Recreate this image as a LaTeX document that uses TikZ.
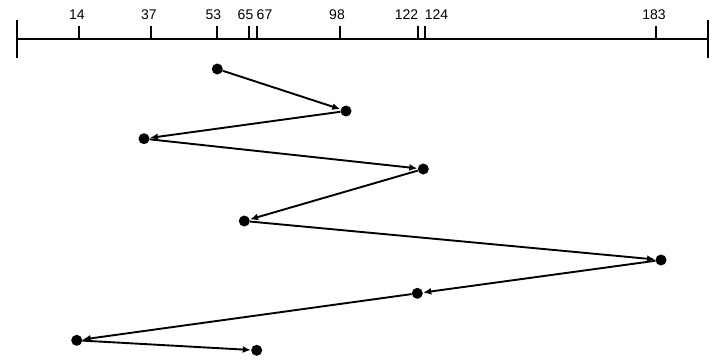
\documentclass[tikz,border=0pt]{standalone}
\usepackage{fontspec}
\setmainfont{Liberation Sans}
\usetikzlibrary{arrows.meta}
\begin{document}
\begin{tikzpicture}[x=1pt,y=-1pt,
  dot/.style={circle,fill=black,inner sep=0pt,minimum size=11pt},
  tick/.style={line width=2pt},
  axisline/.style={line width=2pt},
  seekarrow/.style={line width=1.9pt,-{Latex[length=8pt,width=7pt]},shorten >=0.3pt},
  lbl/.style={font=\fontsize{14}{14}\selectfont,anchor=base,inner sep=0pt}]
\useasboundingbox (0,0) rectangle (718,360);
% axis
\coordinate (L) at (17,39);
\coordinate (R) at (708,39);
\draw[axisline] (L) -- (R);
\draw[tick] (17,20) -- (17,58);
\draw[tick] (708,20) -- (708,58);
\foreach \x in {78.5,151,216.5,249,257,340,418,424.5,656}{
  \draw[tick] (\x,26) -- (\x,39);
}
\node[lbl] (t14) at (77,19.5) {14};
\node[lbl] (t37) at (149,19.5) {37};
\node[lbl] (t53) at (213.5,19.5) {53};
\node[lbl] (t65) at (245.5,19.5) {65};
\node[lbl] (t67) at (264.5,19.5) {67};
\node[lbl] (t98) at (337,19.5) {98};
\node[lbl] (t122) at (406.5,19.5) {122};
\node[lbl] (t124) at (436.5,19.5) {124};
\node[lbl] (t183) at (654,19.5) {183};
% dots
\node[dot] (d1) at (217.3,69) {};
\node[dot] (d2) at (346,111) {};
\node[dot] (d3) at (144,138.7) {};
\node[dot] (d4) at (423.3,169) {};
\node[dot] (d5) at (244.3,221) {};
\node[dot] (d6) at (661,260) {};
\node[dot] (d7) at (417.3,293.3) {};
\node[dot] (d8) at (76.7,340.3) {};
\node[dot] (d9) at (256.7,350.3) {};
\draw[seekarrow] (d1) -- (d2);
\draw[seekarrow] (d2) -- (d3);
\draw[seekarrow] (d3) -- (d4);
\draw[seekarrow] (d4) -- (d5);
\draw[seekarrow] (d5) -- (d6);
\draw[seekarrow] (d6) -- (d7);
\draw[seekarrow] (d7) -- (d8);
\draw[seekarrow] (d8) -- (d9);
\end{tikzpicture}
\end{document}
